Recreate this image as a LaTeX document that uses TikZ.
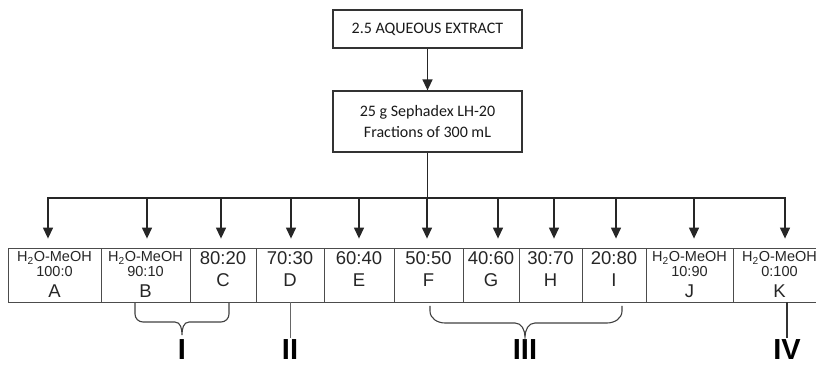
\documentclass[tikz,border=0pt]{standalone}
\usepackage{fontspec}
\setmainfont{Liberation Sans}
\newfontfamily\calibrifont{Carlito}
\usetikzlibrary{arrows.meta,positioning}

\begin{document}
\begin{tikzpicture}[x=1pt,y=1pt,>={Triangle[length=11pt,width=10pt]},
    stepbox/.style={draw=black!80,line width=1.2pt,minimum width=189pt,align=center,
      font=\calibrifont\fontsize{16}{21}\selectfont,text=black!90},
    cell/.style={draw=black!70,line width=0.8pt,minimum height=54pt,inner sep=0pt},
    ratio/.style={anchor=base,inner sep=0pt,text=black!85,font=\fontsize{18.5}{18}\selectfont},
    solvent/.style={anchor=base,inner sep=0pt,text=black!85,font=\fontsize{14.5}{14.5}\selectfont},
    grouplabel/.style={anchor=base,inner sep=0pt,font=\bfseries\fontsize{29}{29}\selectfont},
    feed/.style={->,line width=1.3pt,black!85},
    brace/.style={line width=1.1pt,black!75}]
    \clip (0,0) rectangle (816,366);
    % --- extraction and column ---
    \node[stepbox,minimum height=38pt] (extract) at (427.5,337) {2.5 AQUEOUS EXTRACT};
    \node[stepbox,minimum height=61pt] (sephadex) at (427.5,244.5)
      {25 g Sephadex LH-20\\Fractions of 300 mL};
    \draw[feed] (extract) -- (sephadex);
    % --- fractions ---
    \foreach \n/\xa/\xb in {A/8/101,B/101/190,C/190/256,D/256/324,E/324/394,F/394/463,
                            G/463/519,H/519/582,I/582/646,J/646/733,K/733/826}
      \node[cell,minimum width={(\xb-\xa)*1pt}] (\n) at ({(\xa+\xb)/2},91) {};
    \foreach \n/\r in {C/80:20,D/70:30,E/60:40,F/50:50,G/40:60,H/30:70,I/20:80}{
      \node[ratio] (\n-ratio) at (\n.center |- 0,101.5) {\r};
      \node[ratio] (\n-name) at (\n.center |- 0,79.5) {\n};
    }
    \foreach \n/\r in {A/100:0,B/90:10,J/10:90,K/0:100}{
      \node[solvent] (\n-solvent) at (\n.center |- 0,104) {H\textsubscript{2}O-MeOH};
      \node[solvent] (\n-ratio) at (\n.center |- 0,89) {\r};
      \node[ratio] (\n-name) at (\n.center |- 0,68) {\n};
    }
    % --- distribution ---
    \coordinate (bus) at (sephadex.south |- 0,168);
    \draw[line width=1.3pt,black!85] (sephadex) -- (bus);
    \draw[feed] (bus) -| ([yshift=9pt]A.north -| 48,0);
    \draw[feed] (bus) -| ([yshift=9pt]K.north -| 785,0);
    \foreach \n/\x in {B/147,C/221,D/291,E/359,F/427,G/498,H/554,I/616,J/694}
      \draw[feed] (\x,168) -- ([yshift=9pt]\n.north -| \x,0);
    % --- groups ---
    \node[grouplabel] (gI) at (182,6) {I};
    \node[grouplabel] (gII) at (290,6) {II};
    \node[grouplabel] (gIII) at (525,6) {III};
    \node[grouplabel] (gIV) at (787,6) {IV};
    \draw[brace] (135,63) -- (135,52) to[out=-90,in=180] (143,44) -- (175,44)
      to[out=0,in=90] (182,31) to[out=90,in=180] (189,44) -- (221,44)
      to[out=0,in=-90] (229,52) -- (229,63);
    \draw[brace] (430,60) -- (430,55) to[out=-90,in=180] (445,43) -- (515,43)
      to[out=0,in=90] (525,29) to[out=90,in=180] (535,43) -- (607,43)
      to[out=0,in=-90] (622,55) -- (622,60);
    \draw[line width=0.8pt,black!60] (D.south) -- ([yshift=2pt]gII.north);
    \draw[line width=1.2pt,black!80] (K.south -| gIV) -- ([yshift=2pt]gIV.north);
  \end{tikzpicture}
\end{document}
